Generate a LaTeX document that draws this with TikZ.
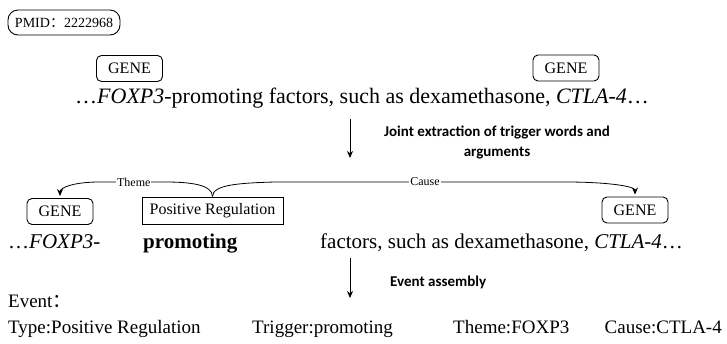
\documentclass[tikz,border=0pt]{standalone}
\usepackage{fontspec}
\setmainfont{Liberation Serif}
\newfontfamily\labelfont{Carlito}
\newfontfamily\cjk{Noto Sans CJK SC}
\usetikzlibrary{arrows.meta,positioning,calc}

\begin{document}
\begin{tikzpicture}[
  x=1pt, y=-1pt,
  gene/.style={draw, rounded corners=5pt, minimum width=66pt, minimum height=26pt, inner sep=2pt, line width=0.9pt, font=\fontsize{16}{18}\selectfont},
  trig/.style={draw, rectangle, minimum width=141pt, minimum height=27pt, inner sep=2pt, line width=0.9pt, font=\fontsize{16}{18}\selectfont},
  txt/.style={inner sep=0pt, anchor=base west, font=\fontsize{21}{24}\selectfont},
  big/.style={inner sep=0pt, anchor=base west, font=\fontsize{22}{25}\selectfont},
  evt/.style={inner sep=0pt, anchor=base west, font=\fontsize{19}{22}\selectfont},
  lab/.style={align=center, inner sep=0pt, anchor=west, font=\labelfont\bfseries\fontsize{15}{20}\selectfont},
  role/.style={fill=white, inner sep=1pt, font=\fontsize{12}{14}\selectfont},
  >={Stealth[length=7pt,width=6pt]},
  arr/.style={->, line width=0.8pt},
]
\useasboundingbox (0,0) rectangle (727,344);

% source sentence
\node[draw, rounded corners=10pt, minimum width=112pt, minimum height=25pt, inner sep=2pt, line width=0.9pt,
      font=\fontsize{14}{16}\selectfont] (pmid) at (64,22.5) {PMID{\cjk ：}2222968};
\node[gene] (geneA) at (129.5,68.5) {GENE};
\node[gene] (geneB) at (566,68) {GENE};
\node[big] (sent) at (75,104) {…\textit{FOXP3}-promoting factors, such as dexamethasone, \textit{CTLA-4}…};

% step 1
\coordinate (jointTop) at (350,119);
\coordinate (jointBot) at (350,158);
\draw[arr] (jointTop) -- (jointBot);
\node[lab] (jointLab) at (384,142) {Joint extraction of trigger words and\\arguments};

% trigger and arguments
\node[gene] (geneC) at (60,211.5) {GENE};
\node[trig] (posReg) at (212.5,210.5) {Positive Regulation};
\node[gene] (geneD) at (635,210) {GENE};
\node[txt] (wordA) at (8,249) {…\textit{FOXP3}-};
\node[txt, font=\bfseries\fontsize{21}{24}\selectfont] (wordB) at (143,249) {promoting};
\node[txt] (wordC) at (320,249) {factors, such as dexamethasone, \textit{CTLA-4}…};

\coordinate (themeR) at (165,182);
\coordinate (themeL) at (100,182);
\coordinate (causeL) at (275,182);
\coordinate (causeR) at (565,182);
\draw[arr, shorten >=2pt] (posReg.north) .. controls +(0,-12) and +(25,0) .. (themeR)
  -- node[role, pos=0.48] {Theme} (themeL) .. controls +(-28,0) and +(0,-10) .. (geneC.north);
\draw[arr, shorten >=2pt] (posReg.north) .. controls +(0,-12) and +(-35,1) .. (causeL)
  -- node[role, pos=0.517] {Cause} (causeR) .. controls +(45,0) and +(0,-10) .. (geneD.north);

% step 2
\coordinate (asmTop) at (350,258);
\coordinate (asmBot) at (350,298);
\draw[arr] (asmTop) -- (asmBot);
\node[lab] (asmLab) at (390,282) {Event assembly};

% event
\node[evt] (event) at (8,307) {Event{\cjk ：}};
\node[evt] (evType) at (8,333) {Type:Positive Regulation};
\node[evt] (evTrig) at (252,333) {Trigger:promoting};
\node[evt] (evTheme) at (453,333) {Theme:FOXP3};
\node[evt, anchor=base east] (evCause) at (722,333) {Cause:CTLA-4};
\end{tikzpicture}
\end{document}
